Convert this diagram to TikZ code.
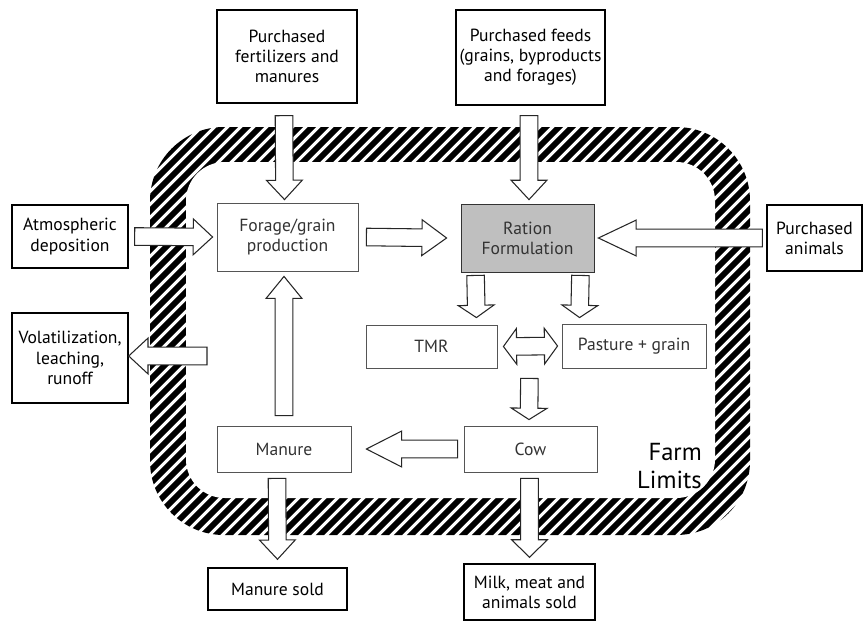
\documentclass[tikz,border=0pt]{standalone}
\usepackage{fontspec}
\setmainfont{PT Sans}
\usepackage{tikz}
\usetikzlibrary{calc}
\definecolor{rationgray}{HTML}{BFBFBF}
\definecolor{boxgray}{HTML}{555555}
\definecolor{textgray}{HTML}{333333}

% hollow block arrows (shaft half width, head half width)
\newcommand{\shaftw}{5pt}
\newcommand{\headw}{10.2pt}
\newcommand{\blockarrow}[3][11pt]{%
  \coordinate (ba-h) at ($(#3)!#1!(#2)$);
  \draw[blockline] ($(#2)!\shaftw!90:(#3)$) -- ($(ba-h)!\shaftw!90:(#3)$) -- ($(ba-h)!\headw!90:(#3)$) -- (#3)
    -- ($(ba-h)!\headw!-90:(#3)$) -- ($(ba-h)!\shaftw!-90:(#3)$) -- ($(#2)!\shaftw!-90:(#3)$) -- cycle;}
\newcommand{\dblockarrow}[3][7.5pt]{%
  \coordinate (ba-a) at ($(#2)!#1!(#3)$);
  \coordinate (ba-b) at ($(#3)!#1!(#2)$);
  \draw[blockline] (#2) -- ($(ba-a)!\headw!90:(#3)$) -- ($(ba-a)!\shaftw!90:(#3)$) -- ($(ba-b)!\shaftw!90:(#3)$)
    -- ($(ba-b)!\headw!90:(#3)$) -- (#3) -- ($(ba-b)!\headw!-90:(#3)$) -- ($(ba-b)!\shaftw!-90:(#3)$)
    -- ($(ba-a)!\shaftw!-90:(#3)$) -- ($(ba-a)!\headw!-90:(#3)$) -- cycle;}

\begin{document}
\begin{tikzpicture}[
    x=0.02cm, y=-0.02cm,
    every node/.style={font=\fontsize{10}{11.5}\selectfont},
    outbox/.style={draw, line width=0.8pt, align=center, inner sep=0pt},
    inbox/.style={draw=boxgray, line width=0.5pt, align=center, inner sep=0pt, text=textgray},
    blockline/.style={draw=black!85, fill=white, line width=0.6pt}
]
    \useasboundingbox (0,0) rectangle (867,629);

    % hatched farm limits band
    \begin{scope}
        \clip[rounded corners=42pt] (150,127) rectangle (750,535);
        \foreach \x in {-270,-257,...,760}
            \draw[line width=3.4pt] (\x,540) -- ++(420,-420);
    \end{scope}
    \fill[white, rounded corners=22pt] (186,162) rectangle (715,498);
    \node[font=\fontsize{14}{16}\selectfont, align=right, anchor=east] (limits) at (708,466) {Farm\\Limits};

    % outside boxes
    \node[outbox, minimum width=2.8cm, minimum height=1.86cm] (fert) at (287,56.5) {Purchased\\fertilizers and\\manures};
    \node[outbox, minimum width=2.98cm, minimum height=1.9cm] (feeds) at (530.5,57.5) {Purchased feeds\\(grains, byproducts\\and forages)};
    \node[outbox, minimum width=2.32cm, minimum height=1.26cm] (atmos) at (70,236.5) {Atmospheric\\deposition};
    \node[outbox, minimum width=2.32cm, minimum height=1.8cm] (volat) at (70,358) {Volatilization,\\leaching,\\runoff};
    \node[outbox, minimum width=1.9cm, minimum height=1.32cm] (animals) at (814.5,238) {Purchased\\animals};
    \node[outbox, minimum width=2.78cm, minimum height=0.84cm] (msold) at (277.5,589) {Manure sold};
    \node[outbox, minimum width=2.62cm, minimum height=1.12cm] (milk) at (529.5,592) {Milk, meat and\\animals sold};

    % inside boxes
    \node[inbox, minimum width=2.82cm, minimum height=1.36cm] (forage) at (287.5,237) {Forage/grain\\production};
    \node[inbox, draw=black!80, fill=rationgray, minimum width=2.66cm, minimum height=1.36cm] (ration) at (527.5,238) {Ration\\Formulation};
    \node[inbox, minimum width=2.62cm, minimum height=0.86cm] (tmr) at (431.5,346.5) {TMR};
    \node[inbox, minimum width=2.88cm, minimum height=0.88cm] (pasture) at (634,346) {Pasture + grain};
    \node[inbox, minimum width=2.68cm, minimum height=0.92cm] (manure) at (284,449) {Manure};
    \node[inbox, minimum width=2.66cm, minimum height=0.92cm] (cow) at (530.5,449) {Cow};

    % arrow ends
    \coordinate (volat-in) at (207,356);

    \blockarrow{$(fert.south)+(-3,12)$}{$(forage.north)+(-3,-3)$}
    \blockarrow{$(feeds.south)+(-1.5,10)$}{$(ration.north)+(1.5,-4)$}
    \blockarrow{$(atmos.east)+(6,0)$}{$(forage.west)+(-4,0)$}
    \blockarrow[14pt]{$(forage.east)+(8,0)$}{$(ration.west)+(-14,0)$}
    \blockarrow[21.5pt]{$(animals.west)+(-4,0)$}{$(ration.east)+(4,0)$}
    \blockarrow[12.5pt]{$(manure.north)+(0,-10)$}{$(forage.south)+(-3.5,5)$}
    \blockarrow[7pt]{$(ration.south west)+(15,3)$}{$(tmr.north east)+(-21,-7)$}
    \blockarrow[7pt]{$(ration.south east)+(-14,3)$}{$(pasture.north west)+(18,-6)$}
    \dblockarrow{$(tmr.east)+(6,0)$}{$(pasture.west)+(-4,0)$}
    \blockarrow[6.5pt]{$(tmr.south east)+(32,10)$}{$(cow.north)+(-1.5,-6)$}
    \blockarrow[20pt]{$(cow.west)+(-6,0)$}{$(manure.east)+(15,0)$}
    \blockarrow[10pt]{$(cow.south)+(-1,6)$}{$(milk.north)+(0,-6)$}
    \blockarrow{$(manure.south)+(-7,6)$}{$(msold.north)+(0,-8)$}
    \blockarrow{volat-in}{$(volat.east)+(0,-2)$}
\end{tikzpicture}
\end{document}
